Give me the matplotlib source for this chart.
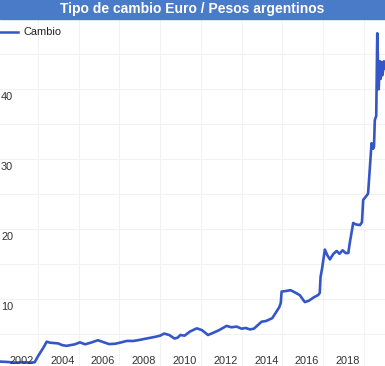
import matplotlib
matplotlib.use("Agg")
import matplotlib.pyplot as plt
from matplotlib.patches import Rectangle
import matplotlib.transforms as mtransforms

plt.rcParams["font.family"] = ["Liberation Sans", "DejaVu Sans"]

# fecha (año decimal) y tipo de cambio EUR/ARS
fechas = [
    2000.15, 2000.5, 2000.9, 2001.3, 2001.6, 2001.85, 2002.0, 2002.15, 2002.3,
    2002.44, 2002.6, 2002.8, 2003.0, 2003.2, 2003.42, 2003.6, 2003.8, 2004.07,
    2004.32, 2004.6, 2004.95, 2005.2, 2005.5, 2005.8, 2006.1, 2006.36, 2006.7,
    2007.0, 2007.34, 2007.7, 2008.0, 2008.2, 2008.45, 2008.7, 2008.85, 2009.0,
    2009.2, 2009.47, 2009.8, 2010.05, 2010.35, 2010.6, 2010.9, 2011.26, 2011.5,
    2011.75, 2012.0, 2012.2, 2012.4, 2012.6, 2012.98, 2013.2, 2013.5, 2013.7,
    2013.85, 2013.92, 2013.96, 2014.2, 2014.4, 2014.6, 2014.85, 2015.02, 2015.1,
    2015.3, 2015.55, 2015.75, 2015.83, 2015.87, 2015.95, 2016.08, 2016.2,
    2016.33, 2016.5, 2016.66, 2016.8, 2016.95, 2017.1, 2017.23, 2017.3, 2017.47,
    2017.6, 2017.8, 2017.9, 2017.96, 2018.1, 2018.2, 2018.29, 2018.37, 2018.45,
    2018.49, 2018.53, 2018.6, 2018.65, 2018.72, 2018.78, 2018.82, 2018.86,
    2018.9, 2018.94, 2018.98, 2019.02,
]
cambio = [
    1.1, 1.05, 0.95, 1.0, 0.95, 1.0, 1.8, 2.5, 3.2,
    3.95, 3.8, 3.75, 3.7, 3.45, 3.35, 3.45, 3.55, 3.85,
    3.57, 3.8, 4.15, 3.9, 3.6, 3.65, 3.85, 4.05, 4.05,
    4.2, 4.4, 4.6, 4.8, 5.1, 4.9, 4.4, 4.5, 4.9,
    4.8, 5.4, 5.85, 5.6, 4.9, 5.2, 5.6, 6.2, 6.0,
    6.1, 5.8, 5.9, 5.7, 5.8, 6.8, 6.9, 7.3, 8.2,
    8.9, 9.5, 11.1, 11.2, 11.3, 11.0, 10.6, 9.9, 9.6,
    9.8, 10.3, 10.6, 10.9, 13.2, 14.5, 17.1, 16.3,
    15.7, 16.5, 16.9, 16.5, 17.0, 16.6, 16.6, 18.0, 20.9,
    20.7, 20.6, 21.0, 24.2, 24.7, 25.1, 28.9, 32.3, 31.5,
    31.8, 35.6, 36.2, 48.0, 40.0, 44.0, 41.5, 43.9,
    42.0, 42.8, 44.0, 43.0,
]
anios = [2002, 2004, 2006, 2008, 2010, 2012, 2014, 2016, 2018]
niveles = [10, 20, 30, 40]
menores = [5, 15, 25, 35, 45]

W, H = 385, 366
fig = plt.figure(figsize=(W / 100, H / 100), dpi=100)
titulo_h = 19
ax = fig.add_axes([0, 0, 1, (H - titulo_h) / H])

azul = "#3556c8"
ax.plot(fechas, cambio, color=azul, lw=1.9, solid_joinstyle="round")
ax.set_xlim(2000.15, 2019.03)
ax.set_ylim(0.47, 50.04)

grid = "#f2f2f2"
for a in anios:
    ax.axvline(a, color=grid, lw=0.75, zorder=0)
for v in niveles + menores:
    ax.axhline(v, color=grid, lw=0.75, zorder=0)

for s in ax.spines.values():
    s.set_visible(False)
ax.set_xticks([])
ax.set_yticks([])

texto = "#333333"
tx = mtransforms.blended_transform_factory(ax.transData, ax.transAxes)
for a in anios:
    ax.annotate(str(a), xy=(a, 0), xycoords=tx, xytext=(-4, 5),
                textcoords="offset pixels", ha="right", va="center",
                fontsize=7.9, color=texto)
ty = mtransforms.blended_transform_factory(ax.transAxes, ax.transData)
for v in niveles:
    ax.annotate(str(v), xy=(0, v), xycoords=ty, xytext=(1, -8),
                textcoords="offset pixels", ha="left", va="center",
                fontsize=7.9, color=texto)

# leyenda
ax.plot([0, 18 / W], [1 - 13 / (H - titulo_h)] * 2, transform=ax.transAxes,
        color=azul, lw=1.8, clip_on=False)
ax.text(23 / W, 1 - 13 / (H - titulo_h), "Cambio", transform=ax.transAxes,
        ha="left", va="center", fontsize=7.9, color="#222222")

# barra de título
fig.patches.append(Rectangle((0, 1 - titulo_h / H), 1, titulo_h / H,
                             transform=fig.transFigure, color="#4a7bc8"))
fig.text(0.5, 1 - (titulo_h / 2) / H, "Tipo de cambio Euro / Pesos argentinos",
         ha="center", va="center", color="white", fontsize=10, fontweight="bold")

fig.savefig("out.png", dpi=100)
